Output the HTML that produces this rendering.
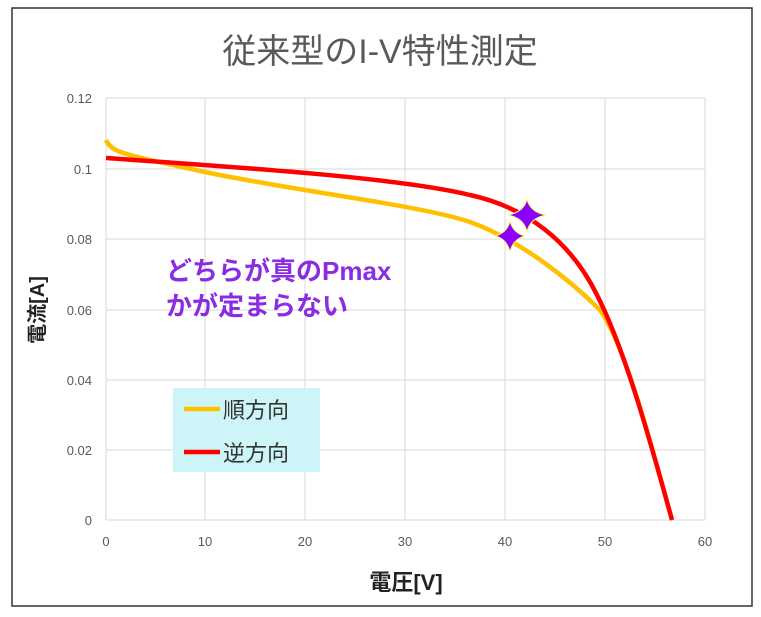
<!DOCTYPE html><html><head><meta charset="utf-8"><style>
body{margin:0;background:#fff;width:761px;height:612px;overflow:hidden;font-family:"Liberation Sans","Noto Sans CJK JP",sans-serif}
</style></head><body>
<svg width="761" height="612" xmlns="http://www.w3.org/2000/svg" font-family="Liberation Sans, Noto Sans CJK JP, sans-serif">
<rect x="0" y="0" width="761" height="612" fill="#fff"/>
<rect x="12" y="8" width="740" height="598" fill="#fff" stroke="#333" stroke-width="1.5"/>
<text x="380" y="63" text-anchor="middle" font-size="34" fill="#595959">従来型のI-V特性測定</text>
<g stroke="#d9d9d9" stroke-width="1">
<line x1="106" y1="98" x2="705" y2="98"/><line x1="106" y1="169" x2="705" y2="169"/><line x1="106" y1="239" x2="705" y2="239"/><line x1="106" y1="310" x2="705" y2="310"/><line x1="106" y1="380" x2="705" y2="380"/><line x1="106" y1="450" x2="705" y2="450"/><line x1="106" y1="520" x2="705" y2="520"/>
<line x1="106" y1="98" x2="106" y2="520"/><line x1="205" y1="98" x2="205" y2="520"/><line x1="305" y1="98" x2="305" y2="520"/><line x1="405" y1="98" x2="405" y2="520"/><line x1="505" y1="98" x2="505" y2="520"/><line x1="605" y1="98" x2="605" y2="520"/><line x1="705" y1="98" x2="705" y2="520"/>
</g>
<g font-size="13" fill="#595959" text-anchor="end">
<text x="92" y="103">0.12</text><text x="92" y="174">0.1</text><text x="92" y="244">0.08</text><text x="92" y="315">0.06</text><text x="92" y="385">0.04</text><text x="92" y="455">0.02</text><text x="92" y="525">0</text>
</g>
<g font-size="13" fill="#595959" text-anchor="middle">
<text x="106" y="546">0</text><text x="205" y="546">10</text><text x="305" y="546">20</text><text x="405" y="546">30</text><text x="505" y="546">40</text><text x="605" y="546">50</text><text x="705" y="546">60</text>
</g>
<text x="406" y="590" text-anchor="middle" font-size="22" font-weight="bold" fill="#222">電圧[V]</text>
<text transform="translate(44,310) rotate(-90)" text-anchor="middle" font-size="20" font-weight="bold" fill="#222">電流[A]</text>
<path d="M106,140 C110,150 120,153 150,160 L205,172 C300,192 420,205 470,222 C520,240 570,280 600,310 C625,345 650,440 672,520" fill="none" stroke="#ffc000" stroke-width="4.5"/>
<path d="M106,158 C250,168 400,178 470,195 C525,207 570,240 597,295 C625,350 650,440 672,520" fill="none" stroke="#ff0000" stroke-width="4.5"/>
<path d="M510,221 Q513,233 525,236 Q513,239 510,252 Q507,239 495,236 Q507,233 510,221Z" fill="#8b00ff" stroke="#ffff66" stroke-width="1"/>
<path d="M527,199 Q530,212 546,215 Q530,218 527,232 Q524,218 508,215 Q524,212 527,199Z" fill="#8b00ff" stroke="#ffff66" stroke-width="1"/>
<text x="166" y="280" font-size="26" font-weight="bold" fill="#8b2be2">どちらが真のPmax</text>
<text x="166" y="315" font-size="26" font-weight="bold" fill="#8b2be2">かが定まらない</text>
<rect x="173" y="388" width="147" height="84" fill="#cdf5f8"/>
<line x1="184" y1="409" x2="220" y2="409" stroke="#ffc000" stroke-width="4.5"/>
<text x="223" y="418" font-size="22" fill="#333">順方向</text>
<line x1="184" y1="452" x2="220" y2="452" stroke="#ff0000" stroke-width="4.5"/>
<text x="223" y="461" font-size="22" fill="#333">逆方向</text>
</svg>
</body></html>
